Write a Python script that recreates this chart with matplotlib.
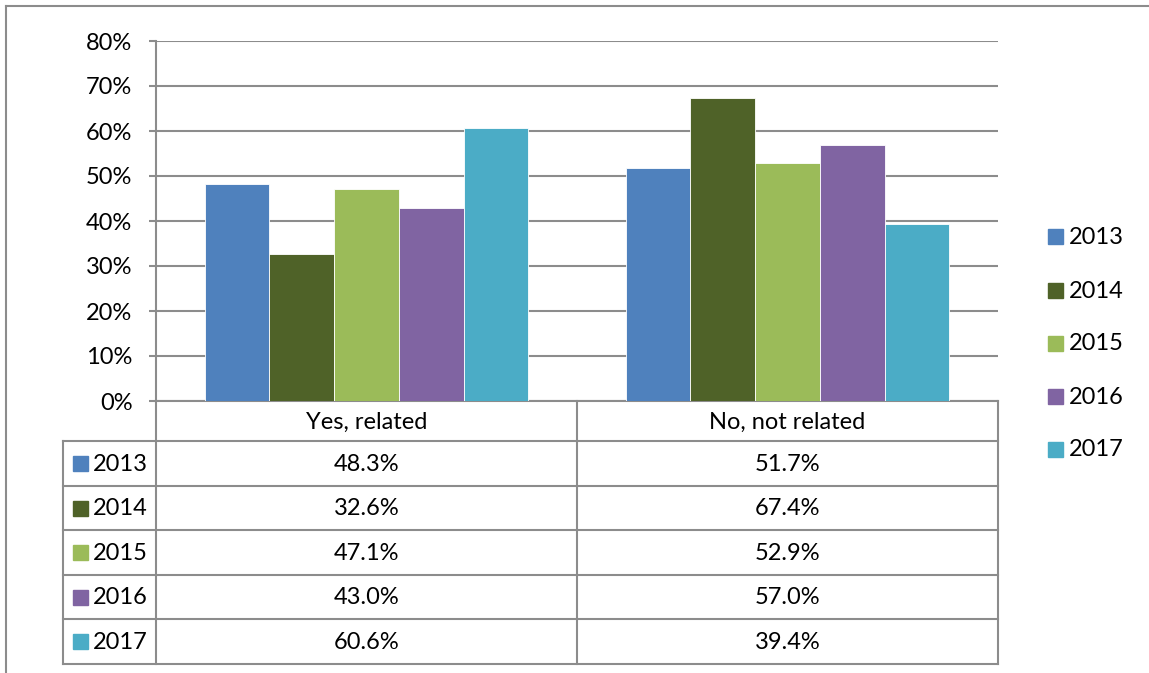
import matplotlib
matplotlib.use("Agg")
import matplotlib.pyplot as plt
from matplotlib.patches import Rectangle
from matplotlib.ticker import PercentFormatter

plt.rcParams['font.family'] = ['Lato', 'DejaVu Sans']

# survey answers by year
categories = ["Yes, related", "No, not related"]
years = ["2013", "2014", "2015", "2016", "2017"]
yes_related = [48.3, 32.6, 47.1, 43.0, 60.6]
no_related = [51.7, 67.4, 52.9, 57.0, 39.4]
colors = ["#4F81BD", "#4F6228", "#9BBB59", "#8064A2", "#4BACC6"]

W, H = 1149, 673
grid_col = "#8C8C8C"
fsize = 17

fig = plt.figure(figsize=(W / 100, H / 100), dpi=100)

# overlay in pixel units for the data table, frame and legend
ov = fig.add_axes([0, 0, 1, 1])
ov.set_xlim(0, W)
ov.set_ylim(H, 0)
ov.axis("off")

# chart frame (top and left edge)
ov.plot([6, W], [6, 6], color=grid_col, lw=1.5)
ov.plot([6, 6], [6, H], color=grid_col, lw=1.5)

# plot area
left, right, top, bottom = 156, 998, 41, 401
ax = fig.add_axes([left / W, 1 - bottom / H, (right - left) / W, (bottom - top) / H])
ax.patch.set_alpha(0)

n = len(years)
bar_w = 1 / (n + 1.5)
values = [yes_related, no_related]
for i, year in enumerate(years):
    xs = [c + (i - (n - 1) / 2) * bar_w for c in range(len(categories))]
    ys = [values[c][i] / 100 for c in range(len(categories))]
    ax.bar(xs, ys, width=bar_w, color=colors[i], edgecolor="white", linewidth=0.6, zorder=3)

ax.set_xlim(-0.5, len(categories) - 0.5)
ax.set_ylim(0, 0.8)
ax.set_yticks([k / 10 for k in range(9)])
ax.yaxis.set_major_formatter(PercentFormatter(1.0, decimals=0))
ax.yaxis.grid(True, color=grid_col, lw=1.5, zorder=0)
ax.set_xticks([])
for s in ["top", "right", "bottom"]:
    ax.spines[s].set_visible(False)
ax.spines["left"].set_color(grid_col)
ax.spines["left"].set_linewidth(1.5)
ax.tick_params(axis="y", length=5, width=1.5, color=grid_col, labelsize=fsize, pad=12)

# data table below the axis
row_h = 44.5
head_top = bottom
rows_top = head_top + 40
tab_left = 63
mid = (left + right) / 2
cell_edges = [left, mid, right]
table_bottom = rows_top + n * row_h

ov.plot([left, left], [bottom, table_bottom], color=grid_col, lw=1.5)
ov.plot([mid, mid], [head_top, table_bottom], color=grid_col, lw=1.5)
ov.plot([right, right], [head_top, table_bottom], color=grid_col, lw=1.5)
ov.plot([tab_left, tab_left], [rows_top, table_bottom], color=grid_col, lw=1.5)
ov.plot([left, right], [head_top, head_top], color=grid_col, lw=1.5)
for r in range(n + 1):
    y = rows_top + r * row_h
    ov.plot([tab_left, right], [y, y], color=grid_col, lw=1.5)

for c, cat in enumerate(categories):
    cx = (cell_edges[c] + cell_edges[c + 1]) / 2
    ov.text(cx, (head_top + rows_top) / 2 + 1, cat, ha="center", va="center", fontsize=fsize)
    for r in range(n):
        cy = rows_top + (r + 0.5) * row_h
        ov.text(cx, cy + 1, f"{values[c][r]:.1f}%", ha="center", va="center", fontsize=fsize)

for r, year in enumerate(years):
    cy = rows_top + (r + 0.5) * row_h
    ov.add_patch(Rectangle((73, cy - 7), 15, 15, color=colors[r]))
    ov.text(93, cy + 1, year, ha="left", va="center", fontsize=fsize)

# legend on the right
leg_y = [236, 290, 343, 396, 449]
for r, year in enumerate(years):
    ov.add_patch(Rectangle((1048, leg_y[r] - 7), 15, 15, color=colors[r]))
    ov.text(1069, leg_y[r] + 1, year, ha="left", va="center", fontsize=fsize)

fig.savefig("out.png", dpi=100)
